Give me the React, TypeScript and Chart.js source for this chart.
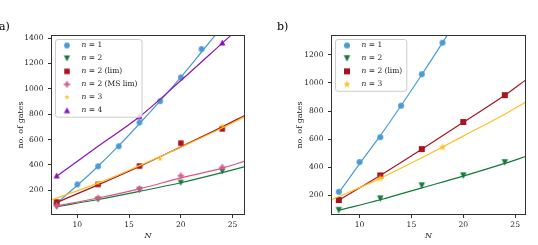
import React, { useEffect, useRef } from 'react';
import { Chart, registerables } from 'chart.js';
Chart.register(...registerables);

const FONT = "'DejaVu Serif', serif";
const INK = '#222222';
const SPINE = '#333333';

// ---------------- colours ----------------
const C_BLUE = '#4A9BD4';
const C_GREEN = '#137A3A';
const C_RED = '#A8141E';
const C_PINK = '#D9578B';
const C_YELLOW = '#FFBF1F';
const C_PURPLE = '#8A12B6';

// ---------------- panel a ----------------
const A_X_TICKS = [10, 15, 20, 25];
const A_Y_TICKS = [200, 400, 600, 800, 1000, 1200, 1400];
const A_X_RANGE = [7.5, 26.15];
const A_Y_RANGE = [10, 1420];

const A_N1_X = [8, 10, 12, 14, 16, 18, 20, 22];
const A_N1_Y = [105, 247, 390, 548, 735, 903, 1090, 1313];
const A_N1_FIT_X = [8, 10, 12, 14, 16, 18, 20, 22, 23.4];
const A_N1_FIT_Y = [100, 240, 390, 552, 725, 905, 1092, 1290, 1430];

const A_N2_X = [8, 12, 16, 20, 24];
const A_N2_Y = [72, 128, 203, 260, 350];
const A_N2_FIT_X = [8, 12, 16, 20, 24, 26.2];
const A_N2_FIT_Y = [72, 128, 192, 260, 340, 387];

const A_N2L_X = [8, 12, 16, 20, 24];
const A_N2L_Y = [108, 247, 392, 572, 684];
const A_N2L_FIT_X = [8, 12, 16, 20, 24, 26.2];
const A_N2L_FIT_Y = [105, 243, 388, 543, 700, 792];

const A_N2MS_X = [8, 12, 16, 20, 24];
const A_N2MS_Y = [80, 140, 213, 315, 382];
const A_N2MS_FIT_X = [8, 12, 16, 20, 24, 26.2];
const A_N2MS_FIT_Y = [78, 140, 212, 298, 375, 431];

const A_N3_X = [12, 18, 24];
const A_N3_Y = [258, 447, 710];
const A_N3_FIT_X = [7.5, 12, 16, 20, 24, 26.2];
const A_N3_FIT_Y = [126, 257, 395, 540, 692, 779];

const A_N4_X = [8, 16, 24];
const A_N4_Y = [318, 785, 1365];
const A_N4_FIT_X = [8, 12, 16, 20, 24, 25];
const A_N4_FIT_Y = [312, 548, 780, 1065, 1360, 1434];

const A_LABELS = ['n = 1', 'n = 2', 'n = 2 (lim)', 'n = 2 (MS lim)', 'n = 3', 'n = 4'];

// ---------------- panel b ----------------
const B_X_TICKS = [10, 15, 20, 25];
const B_Y_TICKS = [200, 400, 600, 800, 1000, 1200];
const B_X_RANGE = [7.3, 26.0];
const B_Y_RANGE = [65, 1337];

const B_N1_X = [8, 10, 12, 14, 16, 18];
const B_N1_Y = [226, 438, 614, 838, 1062, 1286];
const B_N1_FIT_X = [8, 10, 12, 14, 16, 18, 18.6];
const B_N1_FIT_Y = [220, 425, 625, 838, 1058, 1286, 1356];

const B_N2_X = [8, 12, 16, 20, 24];
const B_N2_Y = [96, 177, 270, 341, 435];
const B_N2_FIT_X = [8, 12, 16, 20, 24, 26];
const B_N2_FIT_Y = [95, 170, 254, 338, 428, 477];

const B_N2L_X = [8, 12, 16, 20, 24];
const B_N2L_Y = [168, 343, 530, 722, 913];
const B_N2L_FIT_X = [8, 12, 16, 20, 24, 26];
const B_N2L_FIT_Y = [166, 342, 528, 720, 912, 1020];

const B_N3_X = [12, 18];
const B_N3_Y = [322, 543];
const B_N3_FIT_X = [7.3, 12, 16, 20, 24, 26];
const B_N3_FIT_Y = [170, 322, 468, 622, 778, 862];

const B_LABELS = ['n = 1', 'n = 2', 'n = 2 (lim)', 'n = 3'];

// ---------------- helpers ----------------
type Shape = 'circle' | 'triDown' | 'triUp' | 'square' | 'plus' | 'star';

function makeMarker(shape: Shape, color: string, size: number): HTMLCanvasElement {
  const dim = Math.ceil(size) + 4;
  const c = document.createElement('canvas');
  c.width = dim;
  c.height = dim;
  const ctx = c.getContext('2d')!;
  const cx = dim / 2;
  const cy = dim / 2;
  const r = size / 2;
  ctx.fillStyle = color;
  ctx.beginPath();
  if (shape === 'circle') {
    ctx.arc(cx, cy, r, 0, Math.PI * 2);
  } else if (shape === 'square') {
    ctx.rect(cx - r, cy - r, 2 * r, 2 * r);
  } else if (shape === 'triDown') {
    ctx.moveTo(cx, cy + r);
    ctx.lineTo(cx - r, cy - r);
    ctx.lineTo(cx + r, cy - r);
  } else if (shape === 'triUp') {
    ctx.moveTo(cx, cy - r);
    ctx.lineTo(cx + r, cy + r);
    ctx.lineTo(cx - r, cy + r);
  } else if (shape === 'plus') {
    const a = r / 3;
    const pts = [[-a, -r], [a, -r], [a, -a], [r, -a], [r, a], [a, a], [a, r], [-a, r], [-a, a], [-r, a], [-r, -a], [-a, -a]];
    pts.forEach(([px, py], i) => (i === 0 ? ctx.moveTo(cx + px, cy + py) : ctx.lineTo(cx + px, cy + py)));
  } else if (shape === 'star') {
    for (let k = 0; k < 10; k++) {
      const ang = -Math.PI / 2 + (k * Math.PI) / 5;
      const rr = k % 2 ? r * 0.4 : r;
      const px = cx + rr * Math.cos(ang);
      const py = cy + rr * Math.sin(ang);
      if (k === 0) ctx.moveTo(px, py);
      else ctx.lineTo(px, py);
    }
  }
  ctx.closePath();
  ctx.fill();
  return c;
}

type Series = {
  label: string;
  color: string;
  shape: Shape;
  size: number;
  xs: number[];
  ys: number[];
  fitX: number[];
  fitY: number[];
};

type PanelCfg = {
  tag: string;
  series: Series[];
  xRange: number[];
  yRange: number[];
  xTicks: number[];
  yTicks: number[];
  padTop: number;
  padRight: number;
  yAxisW: number;
  xAxisH: number;
  yTitlePad: number;
  legendX: number;
  legendY: number;
};

function buildChart(canvas: HTMLCanvasElement, cfg: PanelCfg) {
  const markers = cfg.series.map((s) => makeMarker(s.shape, s.color, s.size));
  const datasets: any[] = [];
  const n = cfg.series.length;
  cfg.series.forEach((s, i) => {
    datasets.push({
      data: s.xs.map((x, j) => ({ x, y: s.ys[j] })),
      showLine: false,
      pointStyle: markers[i],
      pointRadius: 3,
      order: 100 - 2 * i,
    });
    datasets.push({
      data: s.fitX.map((x, j) => ({ x, y: s.fitY[j] })),
      showLine: true,
      borderColor: s.color,
      borderWidth: 1.2,
      pointRadius: 0,
      cubicInterpolationMode: 'monotone',
      fill: false,
      order: 100 - 2 * i - 1,
    });
  });

  const tickFont = { family: FONT, size: 7.6 };

  const overlay = {
    id: 'overlay' + cfg.tag,
    afterDatasetsDraw(chart: any) {
      const { ctx, chartArea } = chart;
      ctx.save();
      // frame
      ctx.strokeStyle = SPINE;
      ctx.lineWidth = 1;
      ctx.strokeRect(chartArea.left, chartArea.top, chartArea.right - chartArea.left, chartArea.bottom - chartArea.top);

      // legend
      const spacing = 12.95;
      const fs = 7.5;
      const fontN = `italic ${fs}px ${FONT}`;
      const fontR = `${fs}px ${FONT}`;
      let maxW = 0;
      cfg.series.forEach((s) => {
        ctx.font = fontN;
        const w1 = ctx.measureText(s.label.slice(0, 1)).width;
        ctx.font = fontR;
        const w2 = ctx.measureText(s.label.slice(1)).width;
        maxW = Math.max(maxW, w1 + w2);
      });
      const bx = cfg.legendX;
      const by = cfg.legendY;
      const bw = 26 + maxW + 4.5;
      const bh = spacing * n;
      const rad = 2.5;
      ctx.beginPath();
      ctx.moveTo(bx + rad, by);
      ctx.lineTo(bx + bw - rad, by);
      ctx.arcTo(bx + bw, by, bx + bw, by + rad, rad);
      ctx.lineTo(bx + bw, by + bh - rad);
      ctx.arcTo(bx + bw, by + bh, bx + bw - rad, by + bh, rad);
      ctx.lineTo(bx + rad, by + bh);
      ctx.arcTo(bx, by + bh, bx, by + bh - rad, rad);
      ctx.lineTo(bx, by + rad);
      ctx.arcTo(bx, by, bx + rad, by, rad);
      ctx.closePath();
      ctx.fillStyle = 'rgba(255,255,255,0.8)';
      ctx.fill();
      ctx.strokeStyle = '#cccccc';
      ctx.lineWidth = 1;
      ctx.stroke();

      ctx.textBaseline = 'middle';
      ctx.textAlign = 'left';
      ctx.fillStyle = INK;
      cfg.series.forEach((s, i) => {
        const cy = by + spacing * (i + 0.5) - 0.5;
        const m = markers[i];
        ctx.drawImage(m, bx + 11.5 - m.width / 2, cy - m.height / 2);
        ctx.font = fontN;
        const first = s.label.slice(0, 1);
        ctx.fillText(first, bx + 26, cy);
        const w1 = ctx.measureText(first).width;
        ctx.font = fontR;
        ctx.fillText(s.label.slice(1), bx + 26 + w1, cy);
      });

      // panel tag
      ctx.font = `11px ${FONT}`;
      ctx.textBaseline = 'alphabetic';
      ctx.fillStyle = '#000';
      ctx.fillText(cfg.tag, cfg.tag === 'a)' ? -1 : 8, 30);
      ctx.restore();
    },
  };

  return new Chart(canvas, {
    type: 'scatter',
    data: { datasets },
    options: {
      animation: false,
      responsive: false,
      events: [],
      layout: { padding: { top: cfg.padTop, right: cfg.padRight, left: 0, bottom: 0 } },
      plugins: { legend: { display: false }, tooltip: { enabled: false } },
      scales: {
        x: {
          type: 'linear',
          min: cfg.xRange[0],
          max: cfg.xRange[1],
          afterBuildTicks: (s: any) => {
            s.ticks = cfg.xTicks.map((v) => ({ value: v }));
          },
          afterFit: (s: any) => {
            s.height = cfg.xAxisH;
          },
          ticks: { font: tickFont, color: INK, padding: 2, maxRotation: 0, autoSkip: false, callback: (v: any) => String(v) },
          grid: { drawOnChartArea: false, drawTicks: true, tickLength: 3.5, tickColor: SPINE, tickWidth: 1 },
          border: { display: false },
          title: {
            display: true,
            text: 'N',
            color: INK,
            font: { family: FONT, size: 8, style: 'italic' },
            padding: { top: 0, bottom: 4.2 },
          },
        },
        y: {
          type: 'linear',
          min: cfg.yRange[0],
          max: cfg.yRange[1],
          afterBuildTicks: (s: any) => {
            s.ticks = cfg.yTicks.map((v) => ({ value: v }));
          },
          afterFit: (s: any) => {
            s.width = cfg.yAxisW;
          },
          ticks: { font: tickFont, color: INK, padding: 4.5, autoSkip: false, callback: (v: any) => String(v) },
          grid: { drawOnChartArea: false, drawTicks: true, tickLength: 3.5, tickColor: SPINE, tickWidth: 1 },
          border: { display: false },
          title: {
            display: true,
            text: 'no. of gates',
            color: INK,
            font: { family: FONT, size: 8 },
            padding: { top: cfg.yTitlePad, bottom: 0 },
          },
        },
      },
    },
    plugins: [overlay],
  } as any);
}

const PANEL_A: PanelCfg = {
  tag: 'a)',
  series: [
    { label: A_LABELS[0], color: C_BLUE, shape: 'circle', size: 5.8, xs: A_N1_X, ys: A_N1_Y, fitX: A_N1_FIT_X, fitY: A_N1_FIT_Y },
    { label: A_LABELS[1], color: C_GREEN, shape: 'triDown', size: 6.2, xs: A_N2_X, ys: A_N2_Y, fitX: A_N2_FIT_X, fitY: A_N2_FIT_Y },
    { label: A_LABELS[2], color: C_RED, shape: 'square', size: 5.5, xs: A_N2L_X, ys: A_N2L_Y, fitX: A_N2L_FIT_X, fitY: A_N2L_FIT_Y },
    { label: A_LABELS[3], color: C_PINK, shape: 'plus', size: 6.2, xs: A_N2MS_X, ys: A_N2MS_Y, fitX: A_N2MS_FIT_X, fitY: A_N2MS_FIT_Y },
    { label: A_LABELS[4], color: C_YELLOW, shape: 'star', size: 5.5, xs: A_N3_X, ys: A_N3_Y, fitX: A_N3_FIT_X, fitY: A_N3_FIT_Y },
    { label: A_LABELS[5], color: C_PURPLE, shape: 'triUp', size: 6.2, xs: A_N4_X, ys: A_N4_Y, fitX: A_N4_FIT_X, fitY: A_N4_FIT_Y },
  ],
  xRange: A_X_RANGE,
  yRange: A_Y_RANGE,
  xTicks: A_X_TICKS,
  yTicks: A_Y_TICKS,
  padTop: 35.5,
  padRight: 24.5,
  yAxisW: 51.5,
  xAxisH: 30.5,
  yTitlePad: 15.9,
  legendX: 55.5,
  legendY: 39.5,
};

const PANEL_B: PanelCfg = {
  tag: 'b)',
  series: [
    { label: B_LABELS[0], color: C_BLUE, shape: 'circle', size: 6, xs: B_N1_X, ys: B_N1_Y, fitX: B_N1_FIT_X, fitY: B_N1_FIT_Y },
    { label: B_LABELS[1], color: C_GREEN, shape: 'triDown', size: 6.4, xs: B_N2_X, ys: B_N2_Y, fitX: B_N2_FIT_X, fitY: B_N2_FIT_Y },
    { label: B_LABELS[2], color: C_RED, shape: 'square', size: 6, xs: B_N2L_X, ys: B_N2L_Y, fitX: B_N2L_FIT_X, fitY: B_N2L_FIT_Y },
    { label: B_LABELS[3], color: C_YELLOW, shape: 'star', size: 7.8, xs: B_N3_X, ys: B_N3_Y, fitX: B_N3_FIT_X, fitY: B_N3_FIT_Y },
  ],
  xRange: B_X_RANGE,
  yRange: B_Y_RANGE,
  xTicks: B_X_TICKS,
  yTicks: B_Y_TICKS,
  padTop: 35.5,
  padRight: 12.5,
  yAxisW: 62.5,
  xAxisH: 30.5,
  yTitlePad: 26.5,
  legendX: 66.5,
  legendY: 39.5,
};

function Panel({ cfg, left }: { cfg: PanelCfg; left: number }) {
  const ref = useRef<HTMLCanvasElement>(null);
  useEffect(() => {
    if (!ref.current) return;
    const chart = buildChart(ref.current, cfg);
    return () => chart.destroy();
  }, [cfg]);
  return (
    <canvas
      ref={ref}
      width={269}
      height={245}
      style={{ position: 'absolute', left, top: 0, width: 269, height: 245 }}
    />
  );
}

export default function App() {
  return (
    <div style={{ position: 'absolute', left: 0, top: 0, width: 538, height: 245, background: '#fff', overflow: 'hidden' }}>
      <Panel cfg={PANEL_A} left={0} />
      <Panel cfg={PANEL_B} left={269} />
    </div>
  );
}
